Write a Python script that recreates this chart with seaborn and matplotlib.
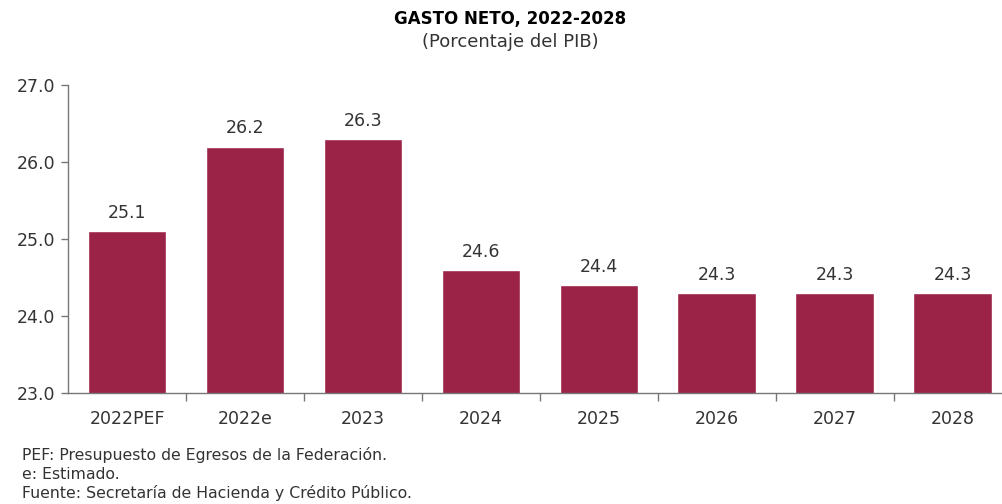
import seaborn as sns
import matplotlib.pyplot as plt
import pandas as pd
from matplotlib.ticker import FixedLocator

categorias = ["2022PEF", "2022e", "2023", "2024", "2025", "2026", "2027", "2028"]
gasto = [25.1, 26.2, 26.3, 24.6, 24.4, 24.3, 24.3, 24.3]
notas = ["PEF: Presupuesto de Egresos de la Federación.",
         "e: Estimado.",
         "Fuente: Secretaría de Hacienda y Crédito Público."]

df = pd.DataFrame({"cat": categorias, "valor": gasto})

sns.set_style("white")
plt.rcParams["font.family"] = ["DejaVu Sans"]
color_bar = "#9b2348"
gris = "#333333"

fig = plt.figure(figsize=(10.02, 5.04), dpi=100)
ax = fig.add_axes([0.0676, 0.2202, 0.9324, 0.6111])

sns.barplot(data=df, x="cat", y="valor", color=color_bar, width=0.664,
            saturation=1, ax=ax, bottom=0)
ax.set_ylim(23, 27)
ax.set_xlim(-0.503, 7.42)

for i, v in enumerate(gasto):
    ax.text(i, v + 0.12, f"{v:.1f}", ha="center", va="bottom",
            fontsize=12.5, color=gris)

ax.set_yticks([23, 24, 25, 26, 27])
ax.set_yticklabels([f"{t:.1f}" for t in [23, 24, 25, 26, 27]])
ax.tick_params(axis="y", length=5, width=1, color="#777777", labelsize=12.5,
               labelcolor=gris, direction="out", left=True, pad=4)
ax.tick_params(axis="x", which="major", length=0, labelsize=12.5,
               labelcolor=gris, pad=12)
ax.xaxis.set_minor_locator(FixedLocator([i + 0.5 for i in range(len(categorias))]))
ax.tick_params(axis="x", which="minor", length=6, width=1, color="#777777",
               direction="out", bottom=True)
ax.set_xlabel("")
ax.set_ylabel("")
for s in ["top", "right"]:
    ax.spines[s].set_visible(False)
for s in ["left", "bottom"]:
    ax.spines[s].set_color("#777777")
    ax.spines[s].set_linewidth(1)

fig.text(0.509, 0.962, "GASTO NETO, 2022-2028", ha="center", va="center",
         fontsize=12, fontweight="bold", color="black")
fig.text(0.509, 0.916, "(Porcentaje del PIB)", ha="center", va="center",
         fontsize=13, color=gris)

for k, n in enumerate(notas):
    fig.text(0.022, 0.097 - k * 0.038, n, ha="left", va="center",
             fontsize=11.3, color=gris)

fig.savefig("out.png", dpi=100)
